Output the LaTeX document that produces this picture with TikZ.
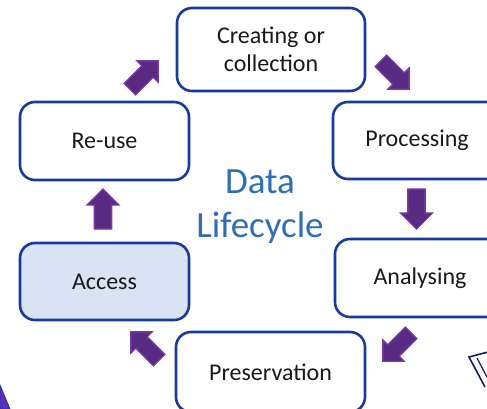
\documentclass[tikz,border=0pt]{standalone}
\usepackage{fontspec}
\setmainfont{Carlito}
\definecolor{boxblue}{RGB}{22,58,158}
\definecolor{accfill}{RGB}{218,227,243}
\definecolor{titleblue}{RGB}{46,110,182}
\definecolor{arrfill}{RGB}{88,42,130}
\definecolor{arredge}{RGB}{118,56,170}
\definecolor{navy}{RGB}{16,30,100}
\tikzset{
  stage/.style={draw=boxblue, line width=2.6pt, rounded corners=15pt, fill=white,
    minimum width=#1, inner sep=0pt, align=center, font=\fontsize{24}{28}\selectfont, text=black!90},
  barrow/.style={fill=arrfill, draw=arredge, line width=1.3pt, line join=miter},
}
\newcommand\blockarr[5]{% x, y, angle, length, headwidth
  \draw[barrow, shift={(#1,#2)}, rotate=#3]
    (-#4/2,-#5*0.27) -- (#4/2-#5*0.5,-#5*0.27) -- (#4/2-#5*0.5,-#5/2) -- (#4/2,0)
    -- (#4/2-#5*0.5,#5/2) -- (#4/2-#5*0.5,#5*0.27) -- (-#4/2,#5*0.27) -- cycle;}
\begin{document}
\begin{tikzpicture}[x=1pt,y=-1pt]
\useasboundingbox (0,0) rectangle (487,408);
\node[stage=188pt, minimum height=83pt] (crea) at (271,49.5) {Creating or\\collection};
\node[stage=168pt, minimum height=77pt] (proc) at (417,140.5) {Processing};
\node[stage=170pt, minimum height=78pt] (anal) at (420,278) {Analysing};
\node[stage=189pt, minimum height=80pt] (pres) at (270.5,372) {Preservation};
\node[stage=169pt, minimum height=77pt, fill=accfill] (acc) at (104.5,281.5) {Access};
\node[stage=169pt, minimum height=78pt] (reuse) at (104.5,141) {Re-use};
\node[text=titleblue, align=center, font=\fontsize{37}{44}\selectfont] (title) at (260,207) {Data\\Lifecycle};
% block arrows between stages
\blockarr{395}{75}{-45}{40}{30}
\blockarr{416.5}{209}{-90}{40}{32}
\blockarr{397}{347}{-135}{40}{30}
\blockarr{145}{346}{135}{40}{30}
\blockarr{103}{209}{90}{40}{32}
\blockarr{144}{75}{45}{40}{30}
% partial decorations at the edges
\fill[arredge!80!blue, draw=boxblue, line width=0.8pt] (0,385) -- (10,409) -- (0,409) -- cycle;
\draw[navy, line width=1.6pt, line join=miter] (488,352) -- (469,357) -- (485,387);
\draw[navy, line width=1.2pt] (477,358) -- (488,379);
\end{tikzpicture}
\end{document}
